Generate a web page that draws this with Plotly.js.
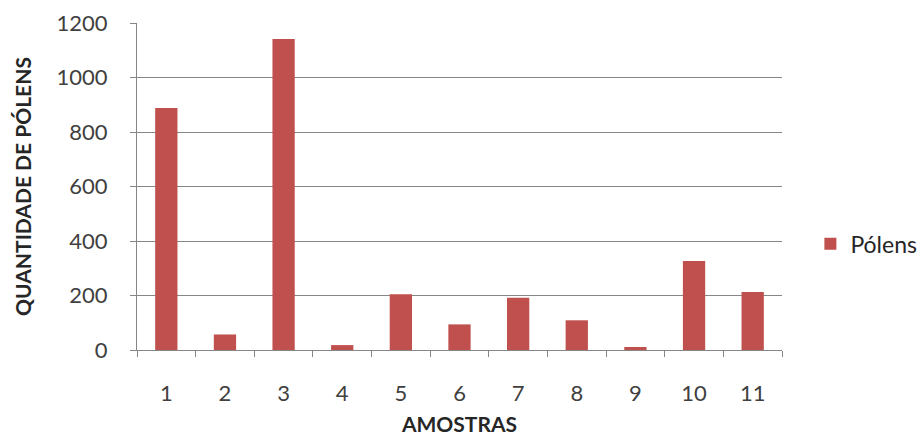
<!DOCTYPE html>
<html>
<head>
<meta charset="utf-8">
<script src="https://cdn.plot.ly/plotly-3.0.1.min.js"></script>
<style>
  html, body { margin: 0; padding: 0; background: #ffffff; }
  #chart { width: 924px; height: 436px; }
</style>
</head>
<body>
<div id="chart"></div>
<script>
// Pollen counts per sample
const amostras = ['1', '2', '3', '4', '5', '6', '7', '8', '9', '10', '11'];
const polens = [888, 57, 1141, 18, 205, 94, 192, 109, 11, 327, 213];
const yTicks = [0, 200, 400, 600, 800, 1000, 1200];

const FONT = 'Lato, "Liberation Sans", sans-serif';

const trace = {
  type: 'bar',
  name: 'Pólens',
  x: amostras,
  y: polens,
  marker: { color: '#C0504D', line: { width: 0 } },
  hoverinfo: 'x+y'
};

const layout = {
  width: 924,
  height: 436,
  margin: { l: 137, r: 142, t: 23, b: 86, autoexpand: false },
  paper_bgcolor: '#ffffff',
  plot_bgcolor: '#ffffff',
  font: { family: FONT, size: 22, color: '#404040' },
  bargap: 0.62,
  showlegend: true,
  legend: {
    x: 1.044, xanchor: 'left',
    y: 0.325, yanchor: 'middle',
    font: { family: FONT, size: 23, color: '#262626' },
    itemwidth: 30
  },
  xaxis: {
    type: 'category',
    categoryorder: 'array',
    categoryarray: amostras,
    tickson: 'boundaries',
    ticks: 'outside',
    ticklen: 6,
    tickcolor: '#868686',
    showline: true,
    linecolor: '#868686',
    linewidth: 1,
    showgrid: false,
    zeroline: false,
    ticklabelstandoff: 24,
    tickfont: { family: FONT, size: 22, color: '#404040' },
    title: {
      text: 'AMOSTRAS',
      font: { family: FONT, size: 21, color: '#262626', weight: 'bold' },
      standoff: 11
    }
  },
  yaxis: {
    range: [0, 1200],
    tickvals: yTicks,
    ticktext: yTicks.map(String),
    ticks: 'outside',
    ticklen: 6,
    tickcolor: '#868686',
    showline: true,
    linecolor: '#868686',
    linewidth: 1,
    showgrid: true,
    gridcolor: '#868686',
    gridwidth: 1,
    zeroline: false,
    ticklabelstandoff: 18,
    tickfont: { family: FONT, size: 22, color: '#404040' },
    title: {
      text: 'QUANTIDADE DE PÓLENS',
      font: { family: FONT, size: 21, color: '#262626', weight: 'bold' },
      standoff: 19
    }
  }
};

Plotly.newPlot('chart', [trace], layout, { displayModeBar: false, staticPlot: true });
</script>
</body>
</html>
